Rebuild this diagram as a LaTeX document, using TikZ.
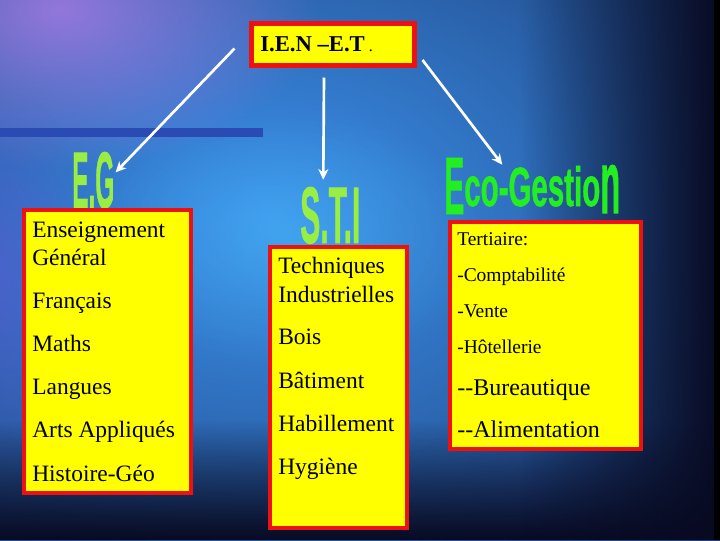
\documentclass[tikz,border=0pt]{standalone}
\usepackage{fontspec}
\setmainfont{Liberation Serif}
\newfontfamily\wafont{Liberation Sans Bold}[FakeBold=1.2]
\usetikzlibrary{arrows.meta,fadings,calc}
\definecolor{bgdark}{HTML}{0E1640}
\definecolor{bgblue}{HTML}{3C92EE}
\definecolor{bgpurple}{HTML}{C080F0}
\definecolor{bgviolet}{HTML}{6A58E0}
\definecolor{bgcyan}{HTML}{4CC8F4}
\definecolor{bgnight}{HTML}{080A22}
\definecolor{barblue}{HTML}{2A4AB4}
\definecolor{boxred}{HTML}{EE1111}
\definecolor{boxyellow}{HTML}{FFFF00}
\definecolor{limegreen}{HTML}{99EE44}
\definecolor{ecogreen}{HTML}{22EE22}
\tikzfading[name=fuzzy, inner color=transparent!0, outer color=transparent!100]
\tikzfading[name=fadeup, top color=transparent!100, bottom color=transparent!0]
\tikzfading[name=fadeleft, left color=transparent!100, right color=transparent!0]
\newcommand\bigtxt{\fontsize{17.6}{20}\selectfont}
\newcommand\smalltxt{\fontsize{14.6}{17}\selectfont}
\newcommand\righttxt{\fontsize{18}{21}\selectfont}
\begin{document}
\begin{tikzpicture}[x=0.75pt,y=-0.75pt,
  ybox/.style={draw=boxred, fill=boxyellow, inner sep=0pt, outer sep=0pt, line width=3pt},
  item/.style={anchor=base west, inner sep=0pt, text=black},
  wa/.style={anchor=base west, inner sep=0pt, font=\wafont},
  arr/.style={draw=white, line width=2pt, -{Stealth[length=8pt,width=7.5pt,inset=2.5pt]}}]
\useasboundingbox (0,0) rectangle (720,540);
% background
\begin{scope}
\clip (0,0) rectangle (720,540);
\fill[bgdark] (0,0) rectangle (720,540);
\shade[inner color=bgblue, outer color=bgdark] (270,220) ellipse (920 and 660);
\fill[bgviolet, opacity=.45, path fading=fuzzy] (0,280) ellipse (90 and 200);
\fill[bgpurple, opacity=.7, path fading=fuzzy] (60,10) ellipse (260 and 160);
\fill[bgcyan, opacity=.35, path fading=fuzzy] (290,240) ellipse (200 and 130);
\fill[bgnight, path fading=fadeup] (0,420) rectangle (720,540);
\fill[bgnight, path fading=fadeleft] (520,0) rectangle (720,540);
\fill[black] (714,0) rectangle (720,540);
\end{scope}
\fill[barblue] (0,128) rectangle (263,137);
% top box
\node[ybox, line width=3.75pt, minimum width=122.25pt, minimum height=31.5pt] (top) at (333,44.5) {};
\node[item, font=\fontsize{17}{19}\selectfont] (toptxt) at (260,51) {\textbf{I.E.N –E.T}\hspace{3pt}{\fontsize{12}{14}\selectfont.}};
% word art titles
\node[wa, text=limegreen] (eg) at (72,208) {\resizebox{31.5pt}{42pt}{E.G}};
\node[wa, text=limegreen] (sti) at (300,243) {\resizebox{45pt}{42pt}{S.T.I}};
\node[wa, text=ecogreen] (eco) at (444,214) {\resizebox{15pt}{42pt}{E}\raisebox{6pt}{\resizebox{102pt}{30pt}{co-Gestio}}\raisebox{0.75pt}{\resizebox{15pt}{36pt}{n}}};
% boxes
\node[ybox, minimum width=125.25pt, minimum height=212.25pt] (left) at (107.5,351.5) {};
\node[ybox, minimum width=102.75pt, minimum height=210.75pt] (mid) at (338.5,387.5) {};
\node[ybox, minimum width=143.25pt, minimum height=170.25pt] (right) at (545.5,335.5) {};
% left items
\node[item, font=\bigtxt] (l1) at (32,237) {Enseignement};
\node[item, font=\bigtxt] (l2) at (32,265) {Général};
\node[item, font=\bigtxt] (l3) at (32,308) {Français};
\node[item, font=\bigtxt] (l4) at (32,351) {Maths};
\node[item, font=\bigtxt] (l5) at (32,394) {Langues};
\node[item, font=\bigtxt] (l6) at (32,437) {Arts Appliqués};
\node[item, font=\bigtxt] (l7) at (32,481) {Histoire-Géo};
% middle items
\node[item, font=\bigtxt] (m1) at (278,273) {Techniques};
\node[item, font=\bigtxt] (m2) at (278,302) {Industrielles};
\node[item, font=\bigtxt] (m3) at (278,344) {Bois};
\node[item, font=\bigtxt] (m4) at (278,388) {Bâtiment};
\node[item, font=\bigtxt] (m5) at (278,431) {Habillement};
\node[item, font=\bigtxt] (m6) at (278,474) {Hygiène};
% right items
\node[item, font=\smalltxt] (r1) at (457,245) {Tertiaire:};
\node[item, font=\smalltxt] (r2) at (457,281) {-Comptabilité};
\node[item, font=\smalltxt] (r3) at (457,317) {-Vente};
\node[item, font=\smalltxt] (r4) at (457,353) {-Hôtellerie};
\node[item, font=\righttxt] (r5) at (457,395) {-{}-Bureautique};
\node[item, font=\righttxt] (r6) at (457,437) {-{}-Alimentation};
% arrows
\draw[arr] ([shift={(-17,4)}]top.west) -- ([shift={(1,-8)}]eg.east);
\draw[arr] ([shift={(-9,12)}]top.south) -- ([shift={(-7,-7)}]sti.north);
\draw[arr] ([shift={(8,15.5)}]top.east) -- ([shift={(-30,7)}]eco.north);
\end{tikzpicture}
\end{document}
